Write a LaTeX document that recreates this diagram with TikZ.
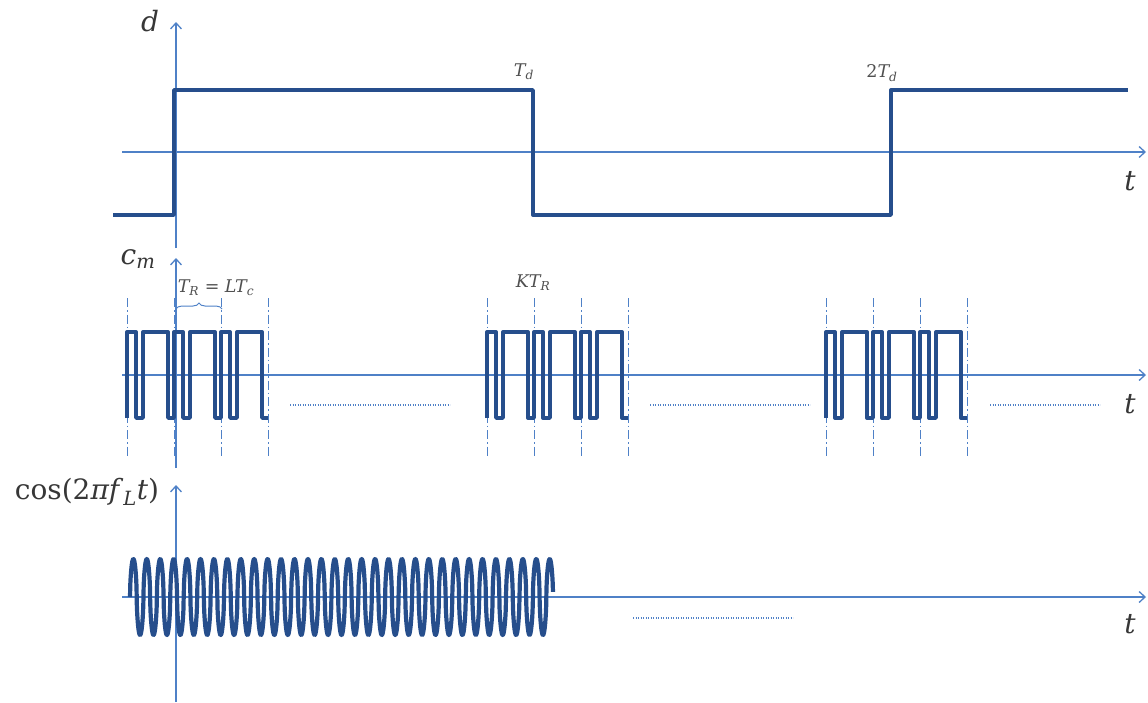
\documentclass[tikz,border=0pt]{standalone}
\usepackage{fontspec}
\newfontfamily\labfont{DejaVu Serif}
\usetikzlibrary{arrows.meta,decorations.pathreplacing}
\definecolor{axisblue}{RGB}{79,129,199}
\definecolor{sigblue}{RGB}{38,78,140}
\definecolor{labgray}{RGB}{55,55,55}
\definecolor{smallgray}{RGB}{80,80,80}
\begin{document}
\begin{tikzpicture}[x=1pt,y=-1pt,
  axis/.style={draw=axisblue,line width=1.3pt,-{Straight Barb[length=6pt,width=11pt]}},
  sig/.style={draw=sigblue,line width=3.4pt,line join=round},
  grid/.style={draw=axisblue,line width=1pt,dash pattern=on 9pt off 3pt on 1.5pt off 3pt},
  dots/.style={draw=axisblue,line width=1.2pt,dash pattern=on 1.2pt off 1.3pt},
  biglab/.style={text=labgray,font=\labfont\fontsize{28}{32}\selectfont,inner sep=0pt},
  smalllab/.style={text=smallgray,font=\labfont\fontsize{17.5}{20}\selectfont,inner sep=0pt}]
\useasboundingbox (0,0) rectangle (1148,702);

% ---------- top panel: d ----------
\coordinate (d0) at (176,248);
\coordinate (d1) at (176,22);
\coordinate (h0) at (122,152);
\coordinate (h1) at (1146,152);
\draw[axis] (d0) -- (d1);
\draw[axis] (h0) -- (h1);
\draw[sig] (113,215) -- (174,215) -- (174,90) -- (533,90) -- (533,215) -- (891,215) -- (891,90) -- (1128,90);
\node[biglab] (dl) at (150,21) {\itshape d};
\node[biglab] (t1) at (1130,181) {\itshape t};
\node[smalllab] (Td) at (524,72) {\itshape T\textsubscript{d}};
\node[smalllab] (Td2) at (882,73) {2\itshape T\textsubscript{d}};

% ---------- middle panel: c_m ----------
\coordinate (c0) at (176,468);
\coordinate (c1) at (176,258);
\coordinate (m0) at (122,375);
\coordinate (m1) at (1146,375);
\draw[axis] (c0) -- (c1);
\draw[axis] (m0) -- (m1);
\node[biglab] (cl) at (138,259) {\itshape c\textsubscript{m}};
\node[biglab] (t2) at (1130,404) {\itshape t};

\foreach \gx in {127,487,826}{
  \foreach \k in {0,47,94,141}{
    \draw[grid] (\gx+\k,298) -- (\gx+\k,458);
  }
  \draw[sig] (\gx,418)
    -- ++(0,-86) -- ++(9,0) -- ++(0,86) -- ++(7,0) -- ++(0,-86) -- ++(25,0) -- ++(0,86) -- ++(6,0)
    -- ++(0,-86) -- ++(9,0) -- ++(0,86) -- ++(7,0) -- ++(0,-86) -- ++(25,0) -- ++(0,86) -- ++(6,0)
    -- ++(0,-86) -- ++(9,0) -- ++(0,86) -- ++(7,0) -- ++(0,-86) -- ++(25,0) -- ++(0,86) -- ++(6,0);
}
\draw[dots] (290,405) -- (450,405);
\draw[dots] (650,405) -- (810,405);
\draw[dots] (990,405) -- (1100,405);

\draw[draw=axisblue,line width=1pt,decorate,decoration={brace,amplitude=6pt}] (176,309) -- (222,309);
\node[smalllab] (TR) at (216,288) {\itshape T\textsubscript{R} = LT\textsubscript{c}};
\node[smalllab] (KTR) at (533,283) {\itshape KT\textsubscript{R}};

% ---------- bottom panel: cos ----------
\coordinate (b0) at (176,702);
\coordinate (b1) at (176,485);
\coordinate (l0) at (122,597);
\coordinate (l1) at (1146,597);
\draw[axis] (b0) -- (b1);
\draw[axis] (l0) -- (l1);
\draw[sig,line width=4.2pt] plot[domain=0:31.5,samples=1300]
  ({130+13.43*\x},{597-38*sin(360*\x)*pow(abs(sin(360*\x))+0.0001,-0.45)});
\draw[dots] (633,618) -- (793,618);
\node[biglab] (cosl) at (87,492) {cos(2\textit{πf}\textsubscript{\textit{L}}\textit{t})};
\node[biglab] (t3) at (1130,624) {\itshape t};
\end{tikzpicture}
\end{document}
